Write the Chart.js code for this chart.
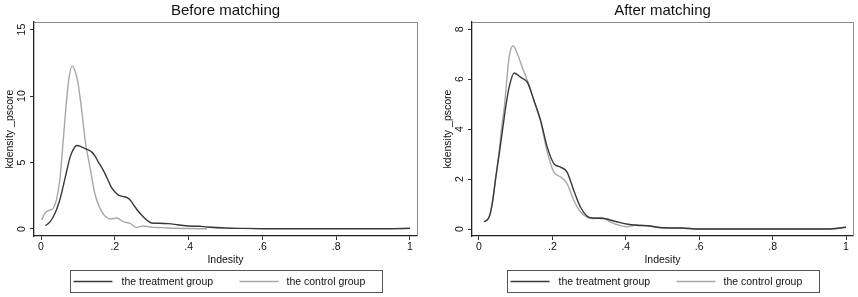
<!DOCTYPE html>
<html>
<head>
<meta charset="utf-8">
<script src="https://cdn.jsdelivr.net/npm/chart.js@4.4.0/dist/chart.umd.min.js"></script>
<style>
  html, body { margin: 0; padding: 0; background: #fff; }
  #wrap { position: relative; width: 858px; height: 297px; }
  #leftBox { position: absolute; left: 0; top: 0; }
  #rightBox { position: absolute; left: 430px; top: 0; }
</style>
</head>
<body>
<div id="wrap">
  <div id="leftBox"><canvas id="beforeChart" width="430" height="297"></canvas></div>
  <div id="rightBox"><canvas id="afterChart" width="428" height="297"></canvas></div>
</div>
<script>
// tick values shared by both panels
const xTicks = [0, 0.2, 0.4, 0.6, 0.8, 1];
const xTickLabels = ['0', '.2', '.4', '.6', '.8', '1'];
const beforeYTicks = [0, 5, 10, 15];
const afterYTicks = [0, 2, 4, 6, 8];

const seriesLabels = ['the treatment group', 'the control group'];

// Before matching
const beforeTreatX = [0.012, 0.025, 0.038, 0.05, 0.06, 0.07, 0.079, 0.088, 0.097, 0.108, 0.119, 0.128, 0.137, 0.146, 0.155, 0.164, 0.173, 0.182, 0.19, 0.2, 0.21, 0.221, 0.232, 0.241, 0.25, 0.263, 0.277, 0.289, 0.3, 0.322, 0.345, 0.37, 0.4, 0.43, 0.45, 0.5, 0.55, 0.6, 0.7, 0.8, 0.9, 0.95, 1.0];
const beforeTreatY = [0.25, 0.55, 1.18, 2.1, 3.2, 4.4, 5.42, 6.0, 6.28, 6.2, 6.05, 5.95, 5.8, 5.5, 5.05, 4.65, 4.18, 3.65, 3.17, 2.8, 2.55, 2.45, 2.38, 2.2, 1.85, 1.35, 0.92, 0.62, 0.45, 0.43, 0.4, 0.32, 0.22, 0.2, 0.15, 0.07, 0.04, 0.02, 0.01, 0.01, 0.01, 0.02, 0.05];

const beforeCtrlX = [0.002, 0.011, 0.024, 0.033, 0.042, 0.051, 0.06, 0.068, 0.076, 0.084, 0.092, 0.1, 0.11, 0.12, 0.133, 0.146, 0.16, 0.173, 0.19, 0.205, 0.223, 0.241, 0.259, 0.277, 0.304, 0.33, 0.36, 0.4, 0.45];
const beforeCtrlY = [0.67, 1.2, 1.42, 1.55, 2.2, 3.7, 6.6, 9.3, 11.4, 12.25, 11.9, 11.0, 9.0, 6.6, 4.6, 2.65, 1.55, 0.97, 0.75, 0.82, 0.55, 0.42, 0.12, 0.22, 0.12, 0.1, 0.05, 0.03, 0.01];

// After matching
const afterTreatX = [0.014, 0.028, 0.037, 0.046, 0.055, 0.064, 0.073, 0.082, 0.096, 0.114, 0.132, 0.15, 0.168, 0.186, 0.204, 0.222, 0.24, 0.258, 0.276, 0.294, 0.31, 0.339, 0.375, 0.402, 0.43, 0.46, 0.5, 0.55, 0.6, 0.7, 0.8, 0.95, 1.0];
const afterTreatY = [0.29, 0.49, 1.1, 2.09, 3.0, 3.95, 4.9, 5.67, 6.25, 6.07, 5.87, 5.14, 4.35, 3.28, 2.62, 2.48, 2.28, 1.55, 0.89, 0.52, 0.44, 0.42, 0.29, 0.2, 0.15, 0.13, 0.05, 0.04, 0.0, 0.0, 0.0, 0.0, 0.07];

const afterCtrlX = [0.014, 0.028, 0.037, 0.046, 0.055, 0.062, 0.069, 0.076, 0.082, 0.093, 0.105, 0.118, 0.132, 0.15, 0.168, 0.186, 0.204, 0.222, 0.24, 0.258, 0.276, 0.294, 0.31, 0.334, 0.357, 0.38, 0.402, 0.43, 0.46, 0.5, 0.55, 0.6, 0.7, 0.8, 0.95, 1.0];
const afterCtrlY = [0.29, 0.49, 1.1, 2.09, 3.1, 4.1, 4.88, 6.0, 6.87, 7.34, 7.0, 6.47, 5.94, 5.14, 4.29, 3.08, 2.28, 2.09, 1.82, 1.16, 0.69, 0.48, 0.42, 0.46, 0.29, 0.16, 0.09, 0.16, 0.12, 0.05, 0.04, 0.0, 0.0, 0.0, 0.0, 0.07];

const FONT = '"Liberation Sans", Arial, Helvetica, sans-serif';
const darkColor = '#383838';
const lightColor = '#a8a8a8';

function zip(xs, ys) {
    return xs.map((x, i) => ({ x: x, y: ys[i] }));
}

// draws title, rotated y labels, axis titles, frame and the boxed legend
const decorPlugin = {
    id: 'decor',
    afterDraw(chart, args, opts) {
        const c = chart.ctx;
        const a = chart.chartArea;
        const yScale = chart.scales.y;
        const midX = (a.left + a.right) / 2;
        c.save();

        // frame on top and right
        c.strokeStyle = '#8a8a8a';
        c.lineWidth = 1;
        c.beginPath();
        c.moveTo(a.left, a.top + 0.5);
        c.lineTo(a.right + 0.5, a.top + 0.5);
        c.lineTo(a.right + 0.5, a.bottom);
        c.stroke();

        c.fillStyle = '#111';
        c.textAlign = 'center';
        c.textBaseline = 'middle';

        // title
        c.font = '15px ' + FONT;
        c.fillText(opts.title, midX, 11);

        // y tick labels, rotated like the original
        c.font = '10.5px ' + FONT;
        opts.yTicks.forEach(v => {
            const py = yScale.getPixelForValue(v);
            c.save();
            c.translate(a.left - 12, py);
            c.rotate(-Math.PI / 2);
            c.fillText(String(v), 0, 0);
            c.restore();
        });

        // y title
        c.save();
        c.translate(a.left - 23.5, (a.top + a.bottom) / 2);
        c.rotate(-Math.PI / 2);
        c.fillText('kdensity _pscore', 0, 0);
        c.restore();

        // x title
        c.fillText('Indesity', midX, 260);

        // legend
        const bw = 312, bx = Math.round(midX - bw / 2) + 0.5, by = 270.5, bh = 22;
        c.strokeStyle = '#555';
        c.lineWidth = 1;
        c.strokeRect(bx, by, bw, bh);
        const ly = by + bh / 2;
        const items = [
            { dx: 3, tx: 51 },
            { dx: 169, tx: 216 }
        ];
        c.textAlign = 'left';
        chart.data.datasets.forEach((ds, i) => {
            const it = items[i];
            c.strokeStyle = ds.borderColor;
            c.lineWidth = 1.3;
            c.beginPath();
            c.moveTo(bx + it.dx, ly);
            c.lineTo(bx + it.dx + 39, ly);
            c.stroke();
            c.fillStyle = '#111';
            c.fillText(ds.label, bx + it.tx, ly + 0.5);
        });

        c.restore();
    }
};

function makeChart(id, cfg) {
    const ctx = document.getElementById(id).getContext('2d');
    return new Chart(ctx, {
        type: 'line',
        data: {
            datasets: [{
                label: seriesLabels[0],
                data: zip(cfg.treatX, cfg.treatY),
                borderColor: darkColor,
                borderWidth: 1.4,
                pointRadius: 0,
                cubicInterpolationMode: 'monotone',
                fill: false
            }, {
                label: seriesLabels[1],
                data: zip(cfg.ctrlX, cfg.ctrlY),
                borderColor: lightColor,
                borderWidth: 1.4,
                pointRadius: 0,
                cubicInterpolationMode: 'monotone',
                fill: false
            }]
        },
        options: {
            responsive: false,
            animation: false,
            events: [],
            layout: {
                padding: { left: 0, right: cfg.padRight, top: 22, bottom: 0 }
            },
            scales: {
                x: {
                    type: 'linear',
                    min: -0.019,
                    max: 1.019,
                    afterBuildTicks: s => { s.ticks = xTicks.map(v => ({ value: v })); },
                    afterFit: s => { s.height = 61; },
                    ticks: {
                        autoSkip: false,
                        maxRotation: 0,
                        padding: 1,
                        color: '#111',
                        font: { size: 10.5, family: FONT },
                        callback: (v, i) => xTickLabels[i]
                    },
                    grid: { drawOnChartArea: false, tickLength: 4, color: '#333' },
                    border: { color: '#222', width: 1.3 }
                },
                y: {
                    type: 'linear',
                    min: cfg.yMin,
                    max: cfg.yMax,
                    afterBuildTicks: s => { s.ticks = cfg.yTicks.map(v => ({ value: v })); },
                    afterFit: s => { s.width = cfg.yWidth; },
                    ticks: { display: false },
                    grid: { drawOnChartArea: false, tickLength: 4, color: '#333' },
                    border: { color: '#222', width: 1.3 }
                }
            },
            plugins: {
                legend: { display: false },
                tooltip: { enabled: false },
                decor: { title: cfg.title, yTicks: cfg.yTicks }
            }
        },
        plugins: [decorPlugin]
    });
}

makeChart('beforeChart', {
    title: 'Before matching',
    treatX: beforeTreatX, treatY: beforeTreatY,
    ctrlX: beforeCtrlX, ctrlY: beforeCtrlY,
    yTicks: beforeYTicks, yMin: -0.53, yMax: 15.57,
    yWidth: 34, padRight: 13
});

makeChart('afterChart', {
    title: 'After matching',
    treatX: afterTreatX, treatY: afterTreatY,
    ctrlX: afterCtrlX, ctrlY: afterCtrlY,
    yTicks: afterYTicks, yMin: -0.28, yMax: 8.29,
    yWidth: 42, padRight: 5
});
</script>
</body>
</html>
